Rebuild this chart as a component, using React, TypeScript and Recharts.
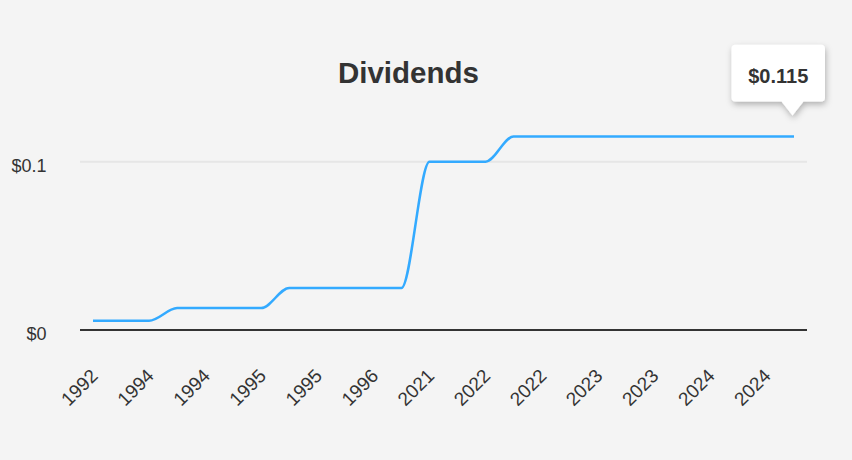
import { Line, LineChart, ReferenceDot, ReferenceLine, XAxis, YAxis } from "recharts"

const dates = [
  "1992-12", "1993-06", "1994-01", "1994-06", "1994-11", "1995-03", "1995-06", "1995-09", "1995-12",
  "1996-03", "1996-06", "1996-09", "2021-06", "2021-09", "2022-01", "2022-04", "2022-07", "2022-10",
  "2023-01", "2023-04", "2023-07", "2023-10", "2024-01", "2024-04", "2024-07", "2024-10",
]
const dividends = [
  0.0055, 0.0055, 0.0055, 0.013, 0.013, 0.013, 0.013, 0.025, 0.025, 0.025, 0.025, 0.025, 0.1, 0.1, 0.1,
  0.115, 0.115, 0.115, 0.115, 0.115, 0.115, 0.115, 0.115, 0.115, 0.115, 0.115,
]
const yTicks = [0, 0.1]

const FONT = "'Liberation Sans', Arial, Helvetica, sans-serif"
const INK = "#333333"

const data = dates.map((d, i) => ({ date: d, value: dividends[i] }))
const last = data[data.length - 1]

function XTick(props: { x?: number; y?: number; payload?: { value: string } }) {
  const { x = 0, y = 0, payload } = props
  const tx = x + 6
  const ty = y + 47
  return (
    <text x={tx} y={ty} textAnchor="end" transform={`rotate(-45, ${tx}, ${ty})`} fill={INK} fontSize={19} fontFamily={FONT}>
      {String(payload?.value ?? "").slice(0, 4)}
    </text>
  )
}

function YTick(props: { x?: number; y?: number; payload?: { value: number } }) {
  const { y = 0, payload } = props
  return (
    <text x={46.5} y={y + 10.3} textAnchor="end" fill={INK} fontSize={18} fontFamily={FONT}>
      ${payload?.value}
    </text>
  )
}

// bulle type infobulle figée sur le dernier point
function Bubble(props: { cx?: number; cy?: number }) {
  const { cx = 0, cy = 0 } = props
  const left = cx - 62.5
  const right = cx + 31
  const top = cy - 91.6
  const bottom = cy - 35
  const tipX = cx - 1.5
  const r = 4
  const d = [
    `M ${left + r} ${top}`,
    `L ${right - r} ${top}`,
    `Q ${right} ${top} ${right} ${top + r}`,
    `L ${right} ${bottom - r}`,
    `Q ${right} ${bottom} ${right - r} ${bottom}`,
    `L ${tipX + 11} ${bottom}`,
    `L ${tipX} ${cy - 21}`,
    `L ${tipX - 11} ${bottom}`,
    `L ${left + r} ${bottom}`,
    `Q ${left} ${bottom} ${left} ${bottom - r}`,
    `L ${left} ${top + r}`,
    `Q ${left} ${top} ${left + r} ${top}`,
    "Z",
  ].join(" ")
  return (
    <g>
      <defs>
        <filter id="bubble-shadow" x="-30%" y="-30%" width="160%" height="170%">
          <feDropShadow dx={1} dy={3} stdDeviation={3} floodColor="#000" floodOpacity={0.28} />
        </filter>
      </defs>
      <path d={d} fill="#ffffff" filter="url(#bubble-shadow)" />
      <text
        x={(left + right) / 2}
        y={cy - 53.3}
        textAnchor="middle"
        fill={INK}
        fontSize={20}
        fontWeight={700}
        fontFamily={FONT}
      >
        ${last.value}
      </text>
    </g>
  )
}

export default function App() {
  return (
    <div style={{ position: "absolute", left: 0, top: 0, width: 852, height: 460, background: "#f4f4f4" }}>
      <LineChart width={852} height={460} data={data} margin={{ top: 128, right: 45, bottom: 70, left: 0 }}>
        {yTicks.slice(1).map((t) => (
          <ReferenceLine key={t} y={t} stroke="#e6e6e6" strokeWidth={2} />
        ))}
        <XAxis
          dataKey="date"
          interval={1}
          padding={{ left: 13, right: 13 }}
          tickLine={false}
          tickSize={0}
          tickMargin={0}
          height={60}
          axisLine={{ stroke: INK, strokeWidth: 2 }}
          tick={<XTick />}
        />
        <YAxis
          domain={[0, 0.12]}
          ticks={yTicks}
          width={80}
          axisLine={false}
          tickLine={false}
          tick={<YTick />}
        />
        <Line
          type="monotone"
          dataKey="value"
          stroke="#33aaff"
          strokeWidth={2.5}
          dot={false}
          activeDot={false}
          isAnimationActive={false}
        />
        <ReferenceDot x={last.date} y={last.value} shape={<Bubble />} />
      </LineChart>
      <svg width={852} height={460} style={{ position: "absolute", left: 0, top: 0, pointerEvents: "none" }}>
        <text x={408.4} y={83.3} textAnchor="middle" fill={INK} fontSize={29.5} fontWeight={700} fontFamily={FONT}>
          Dividends
        </text>
      </svg>
    </div>
  )
}
